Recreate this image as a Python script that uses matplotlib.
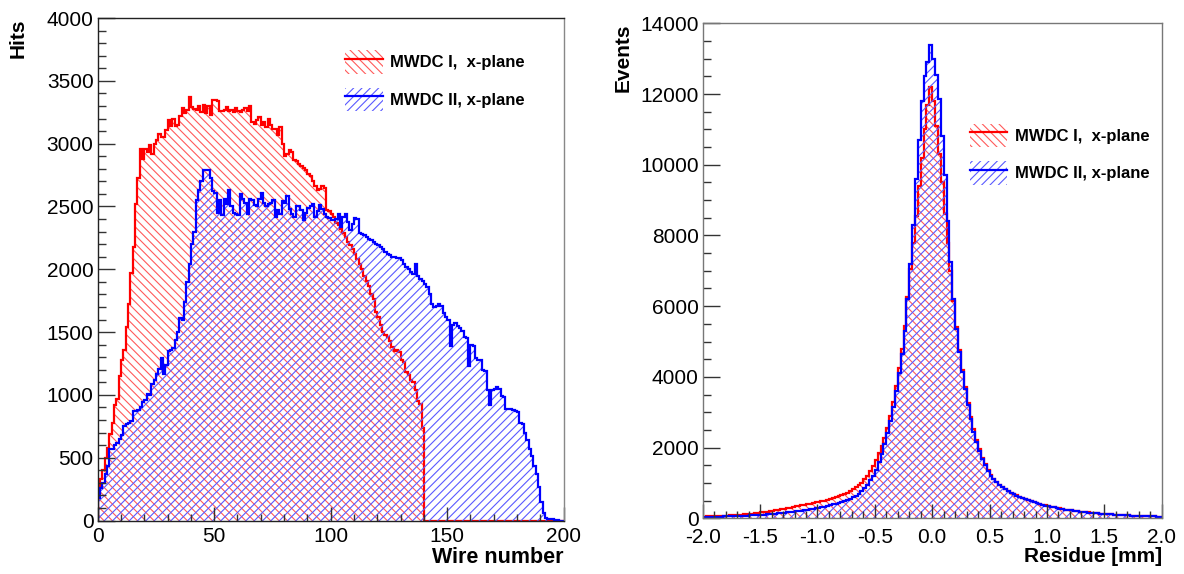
import numpy as np
import matplotlib
matplotlib.use('Agg')
import matplotlib.pyplot as plt
from matplotlib.patches import Patch
from matplotlib.lines import Line2D
from matplotlib.ticker import MultipleLocator, FormatStrFormatter

plt.rcParams['font.family'] = ['Liberation Sans', 'DejaVu Sans']
plt.rcParams['axes.unicode_minus'] = False
plt.rcParams['hatch.linewidth'] = 0.8

# --- wire hit maps (1 bin per wire, 0..200) ---
wire_edges = np.arange(0, 201)

hits_mwdc1 = [
    250, 330, 400, 500, 580, 690, 780, 920, 970, 1150,
    1280, 1360, 1540, 1720, 1970, 2180, 2520, 2730, 2960, 2880,
    2960, 2930, 2990, 2920, 3000, 3030, 3080, 3050, 3050, 3110,
    3190, 3140, 3200, 3140, 3150, 3220, 3280, 3240, 3270, 3370,
    3290, 3275, 3270, 3300, 3250, 3310, 3240, 3300, 3230, 3350,
    3350, 3340, 3260, 3260, 3270, 3290, 3260, 3270, 3250, 3280,
    3260, 3250, 3270, 3280, 3260, 3300, 3170, 3160, 3190, 3210,
    3150, 3170, 3130, 3200, 3150, 3120, 3120, 3070, 3130, 3000,
    2900, 2920, 2950, 2930, 2870, 2860, 2840, 2820, 2810, 2790,
    2760, 2740, 2700, 2660, 2630, 2640, 2660, 2650, 2470, 2460,
    2440, 2420, 2370, 2350, 2320, 2290, 2260, 2220, 2190, 2160,
    2120, 2080, 2040, 2000, 1950, 1910, 1870, 1800, 1760, 1660,
    1620, 1560, 1500, 1480, 1460, 1430, 1380, 1350, 1360, 1340,
    1280, 1260, 1180, 1160, 1120, 1100, 1040, 950, 930, 740,
    0, 0, 0, 0, 0, 0, 0, 0, 0, 0,
    0, 0, 0, 0, 0, 0, 0, 0, 0, 0,
    0, 0, 0, 0, 0, 0, 0, 0, 0, 0,
    0, 0, 0, 0, 0, 0, 0, 0, 0, 0,
    0, 0, 0, 0, 0, 0, 0, 0, 0, 0,
    0, 0, 0, 0, 0, 0, 0, 0, 0, 0,
]

hits_mwdc2 = [
    180, 260, 300, 370, 430, 570, 570, 600, 620, 650,
    680, 750, 770, 780, 790, 870, 870, 880, 900, 940,
    960, 1010, 1000, 1090, 1120, 1170, 1210, 1290, 1170, 1240,
    1350, 1360, 1370, 1440, 1500, 1610, 1600, 1740, 1900, 2040,
    2200, 2300, 2550, 2630, 2700, 2790, 2790, 2790, 2730, 2620,
    2610, 2450, 2550, 2430, 2560, 2520, 2630, 2500, 2450, 2440,
    2430, 2600, 2560, 2530, 2440, 2560, 2550, 2510, 2500, 2560,
    2610, 2530, 2500, 2520, 2530, 2550, 2420, 2470, 2440, 2540,
    2530, 2580, 2480, 2440, 2420, 2500, 2500, 2470, 2390, 2450,
    2490, 2500, 2520, 2420, 2460, 2510, 2480, 2440, 2420, 2410,
    2390, 2390, 2400, 2440, 2340, 2420, 2440, 2380, 2310, 2360,
    2410, 2400, 2290, 2280, 2270, 2260, 2240, 2230, 2220, 2200,
    2190, 2180, 2160, 2140, 2120, 2110, 2100, 2100, 2090, 2090,
    2070, 2040, 2020, 2000, 1980, 1960, 2040, 1950, 1920, 1910,
    1880, 1860, 1800, 1720, 1700, 1710, 1720, 1710, 1650, 1620,
    1600, 1390, 1560, 1570, 1550, 1530, 1510, 1460, 1450, 1230,
    1400, 1390, 1290, 1280, 1280, 1200, 1190, 1040, 920, 1040,
    1050, 1060, 1050, 990, 980, 890, 890, 890, 880, 870,
    860, 780, 770, 700, 640, 570, 510, 430, 370, 270,
    150, 60, 20, 15, 10, 8, 5, 3, 0, 0,
]

# --- residue distributions (-2..2 mm, 0.025 mm bins) ---
res_edges = np.linspace(-2.0, 2.0, 161)

res_mwdc1 = [
    51, 54, 57, 60, 63, 67, 71, 75, 79, 84,
    89, 94, 100, 106, 113, 120, 128, 136, 145, 155,
    165, 176, 188, 200, 212, 226, 240, 255, 270, 285,
    305, 320, 335, 350, 366, 382, 398, 415, 432, 450,
    465, 480, 497, 517, 540, 565, 592, 622, 655, 690,
    730, 775, 825, 880, 940, 1010, 1100, 1200, 1330, 1480,
    1650, 1850, 2050, 2280, 2550, 2900, 3300, 3750, 4250, 4800,
    5450, 6250, 7050, 7800, 8550, 9400, 10200, 11000, 11700, 12200,
    11800, 11100, 10300, 9500, 8600, 7800, 7000, 6150, 5400, 4750,
    4200, 3700, 3250, 2870, 2520, 2210, 1950, 1720, 1530, 1360,
    1220, 1120, 1030, 955, 890, 828, 775, 728, 686, 648,
    612, 578, 546, 515, 487, 460, 435, 411, 388, 366,
    346, 327, 310, 294, 278, 262, 249, 236, 224, 213,
    202, 192, 182, 173, 165, 157, 150, 143, 136, 129,
    123, 117, 111, 106, 101, 96, 91, 87, 83, 79,
    75, 71, 68, 65, 62, 59, 56, 53, 50, 48,
]

res_mwdc2 = [
    38, 40, 42, 44, 46, 48, 50, 52, 55, 58,
    61, 64, 67, 70, 74, 78, 82, 86, 90, 95,
    100, 106, 112, 118, 125, 132, 140, 148, 157, 166,
    176, 186, 197, 208, 220, 232, 245, 258, 272, 286,
    301, 317, 334, 352, 372, 392, 415, 440, 465, 495,
    525, 560, 600, 645, 700, 765, 850, 950, 1070, 1210,
    1380, 1580, 1820, 2100, 2400, 2750, 3150, 3600, 4100, 4650,
    5300, 6200, 7200, 8300, 9600, 10700, 11800, 12500, 12900, 13400,
    13000, 12550, 11850, 10800, 9700, 8400, 7250, 6200, 5350, 4700,
    4150, 3650, 3200, 2800, 2450, 2150, 1900, 1680, 1500, 1340,
    1200, 1110, 1020, 950, 885, 825, 770, 725, 682, 645,
    608, 575, 543, 512, 484, 457, 432, 408, 385, 362,
    342, 324, 307, 291, 276, 261, 247, 234, 222, 211,
    200, 190, 181, 172, 164, 156, 149, 142, 135, 128,
    122, 116, 110, 105, 100, 95, 90, 86, 82, 78,
    74, 70, 67, 64, 61, 58, 55, 52, 50, 48,
]

labels = ['MWDC I,  x-plane', 'MWDC II, x-plane']

RED, BLUE = '#ff0000', '#0000ff'
RED_HATCH, BLUE_HATCH = '#ff5a5a', '#5a5aff'
RED_PAT, BLUE_PAT = '\\\\\\\\', '////'


def draw_hist(ax, edges, values, line_color, hatch_color, hatch):
    ax.stairs(values, edges, fill=True, facecolor='none',
              edgecolor=hatch_color, hatch=hatch, linewidth=0)
    ax.stairs(values, edges, color=line_color, linewidth=1.6)


def legend_handles():
    h1 = (Patch(facecolor='none', edgecolor=RED_HATCH, hatch=RED_PAT, linewidth=0),
          Line2D([], [], color=RED, linewidth=1.6))
    h2 = (Patch(facecolor='none', edgecolor=BLUE_HATCH, hatch=BLUE_PAT, linewidth=0),
          Line2D([], [], color=BLUE, linewidth=1.6))
    return [h1, h2]


def style_axes(ax, spine_color):
    for s in ax.spines.values():
        s.set_color(spine_color)
        s.set_linewidth(1.0)
    ax.tick_params(which='both', direction='in', top=False, right=False,
                   colors='#333333', labelcolor='black', labelsize=15, width=1)


fig = plt.figure(figsize=(11.84, 5.74), dpi=100)

# left panel: wire hits
ax1 = fig.add_axes([0.0825, 0.0932, 0.3936, 0.8754])
draw_hist(ax1, wire_edges, hits_mwdc1, RED, RED_HATCH, RED_PAT)
draw_hist(ax1, wire_edges, hits_mwdc2, BLUE, BLUE_HATCH, BLUE_PAT)
ax1.set_xlim(0, 200)
ax1.set_ylim(0, 4000)
ax1.xaxis.set_major_locator(MultipleLocator(50))
ax1.xaxis.set_minor_locator(MultipleLocator(10))
ax1.yaxis.set_major_locator(MultipleLocator(500))
ax1.yaxis.set_minor_locator(MultipleLocator(100))
style_axes(ax1, '#222222')
ax1.spines['right'].set_color('#888888')
ax1.tick_params(axis='y', which='major', length=12, pad=3)
ax1.tick_params(axis='y', which='minor', length=6)
ax1.tick_params(axis='x', which='major', length=10, pad=5)
ax1.tick_params(axis='x', which='minor', length=5)
ax1.set_xlabel('Wire number', fontsize=15.5, fontweight='bold', loc='right')
ax1.set_ylabel('Hits', fontsize=15, fontweight='bold', loc='top')
ax1.xaxis.set_label_coords(1.0, -0.052)
ax1.yaxis.set_label_coords(-0.150, 1.0)
ax1.legend(legend_handles(), labels, loc='upper left',
           bbox_to_anchor=(345 / 1184, 1 - 50 / 574), bbox_transform=fig.transFigure,
           frameon=False, borderpad=0, borderaxespad=0,
           handlelength=2.26, handleheight=1.8, labelspacing=0.84, handletextpad=0.44,
           prop={'size': 12, 'weight': 'bold'})

# right panel: residues
ax2 = fig.add_axes([0.5935, 0.0970, 0.3877, 0.8624])
draw_hist(ax2, res_edges, res_mwdc1, RED, RED_HATCH, RED_PAT)
draw_hist(ax2, res_edges, res_mwdc2, BLUE, BLUE_HATCH, BLUE_PAT)
ax2.set_xlim(-2, 2)
ax2.set_ylim(0, 14000)
ax2.xaxis.set_major_locator(MultipleLocator(0.5))
ax2.xaxis.set_minor_locator(MultipleLocator(0.1))
ax2.xaxis.set_major_formatter(FormatStrFormatter('%.1f'))
ax2.yaxis.set_major_locator(MultipleLocator(2000))
ax2.yaxis.set_minor_locator(MultipleLocator(500))
style_axes(ax2, '#777777')
ax2.tick_params(axis='y', which='major', length=12, pad=3)
ax2.tick_params(axis='y', which='minor', length=6)
ax2.tick_params(axis='x', which='major', length=10, pad=7)
ax2.tick_params(axis='x', which='minor', length=5)
ax2.set_xlabel('Residue [mm]', fontsize=15, fontweight='bold', loc='right')
ax2.set_ylabel('Events', fontsize=15, fontweight='bold', loc='top')
ax2.xaxis.set_label_coords(1.0, -0.057)
ax2.yaxis.set_label_coords(-0.1525, 1.0)
ax2.legend(legend_handles(), labels, loc='upper left',
           bbox_to_anchor=(963 / 1184, 1 - 117 / 574), bbox_transform=fig.transFigure,
           frameon=True, fancybox=False, facecolor='white', edgecolor='white',
           framealpha=1, borderpad=0.4, borderaxespad=0,
           handlelength=2.26, handleheight=1.8, labelspacing=0.84, handletextpad=0.44,
           prop={'size': 12, 'weight': 'bold'})

fig.savefig('out.png', dpi=100)
